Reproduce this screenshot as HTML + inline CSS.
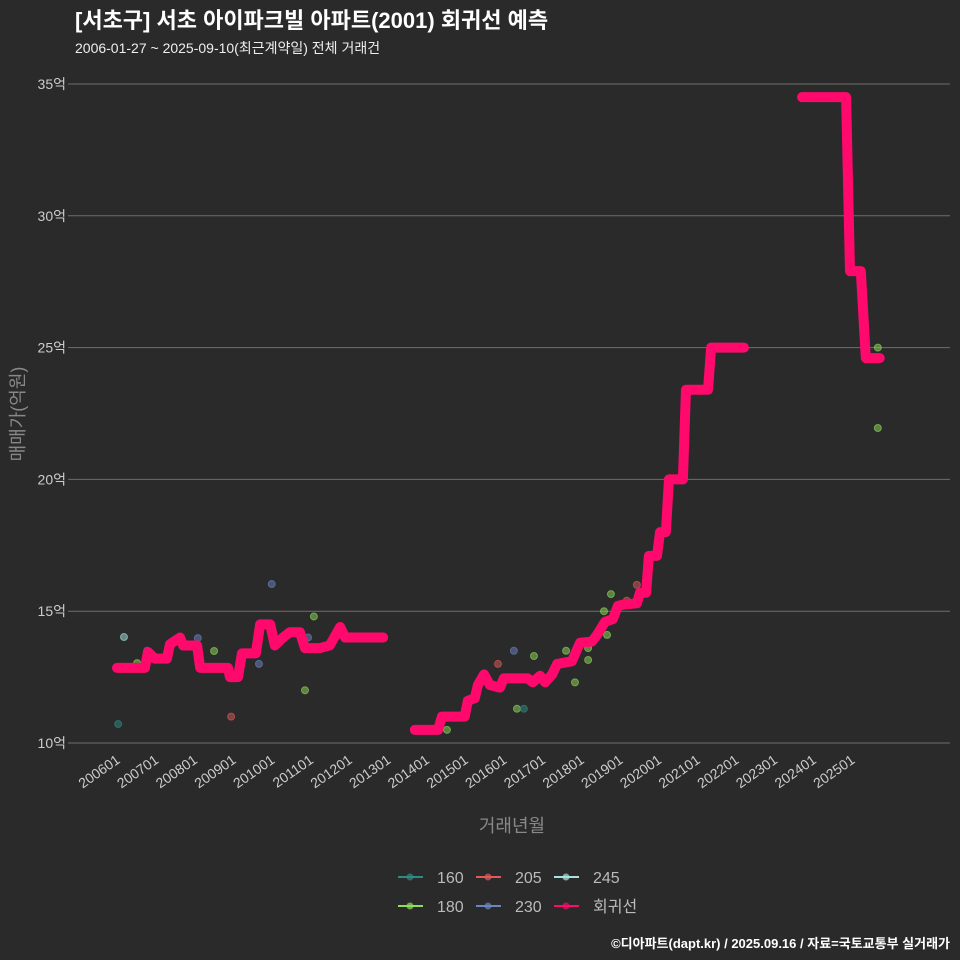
<!DOCTYPE html>
<html><head><meta charset="utf-8"><style>
body{margin:0;background:#2b2a2b;}
svg{display:block;font-family:"Liberation Sans","Noto Sans CJK KR",sans-serif;}
</style></head><body>
<svg id="c" width="960" height="960">
<rect width="960" height="960" fill="#2b2a2b"/>
<text x="75" y="28" fill="#fff" font-size="22" font-weight="bold">[서초구] 서초 아이파크빌 아파트(2001) 회귀선 예측</text>
<text x="75" y="53" fill="#eee" font-size="14">2006-01-27 ~ 2025-09-10(최근계약일) 전체 거래건</text>
<g id="grid"></g><g id="xt"></g><g id="pts"></g><g id="ln"></g>
<text x="24" y="414" fill="#888" font-size="18" text-anchor="middle" transform="rotate(-90 24 414)">매매가(억원)</text>
<text x="512" y="832" fill="#888" font-size="18" text-anchor="middle">거래년월</text>
<g id="leg"></g>
<text x="950" y="948" fill="#fff" font-size="13" font-weight="bold" text-anchor="end">©디아파트(dapt.kr) / 2025.09.16 / 자료=국토교통부 실거래가</text>
</svg>
<script>
const yTicks=[10,15,20,25,30,35];
const xTickYears=[2006,2007,2008,2009,2010,2011,2012,2013,2014,2015,2016,2017,2018,2019,2020,2021,2022,2023,2024,2025];
const seg1=[[2006.0,12.85],[2006.72,12.85],[2006.8,13.45],[2006.98,13.2],[2007.29,13.2],[2007.37,13.75],[2007.63,14.0],[2007.71,13.7],[2008.07,13.7],[2008.15,12.85],[2008.87,12.85],[2008.92,12.5],[2009.13,12.5],[2009.23,13.4],[2009.59,13.4],[2009.7,14.5],[2009.96,14.5],[2010.08,13.7],[2010.29,14.0],[2010.47,14.2],[2010.73,14.2],[2010.86,13.6],[2011.25,13.6],[2011.5,13.7],[2011.77,14.4],[2011.9,14.0],[2012.88,14.0]];
const seg2=[[2013.7,10.5],[2014.3,10.5],[2014.4,11.0],[2014.99,11.0],[2015.07,11.6],[2015.25,11.7],[2015.33,12.2],[2015.49,12.6],[2015.64,12.2],[2015.9,12.1],[2016.0,12.45],[2016.62,12.45],[2016.75,12.3],[2016.94,12.55],[2017.07,12.3],[2017.25,12.6],[2017.38,13.0],[2017.76,13.1],[2017.97,13.8],[2018.28,13.85],[2018.41,14.1],[2018.62,14.6],[2018.82,14.7],[2018.95,15.2],[2019.08,15.25],[2019.44,15.3],[2019.52,15.7],[2019.68,15.7],[2019.75,17.1],[2019.96,17.1],[2020.04,18.0],[2020.19,18.0],[2020.27,20.0],[2020.63,20.0],[2020.71,23.4],[2021.28,23.4],[2021.36,25.0],[2022.21,25.0]];
const seg3=[[2023.71,34.5],[2024.85,34.5],[2024.95,27.9],[2025.23,27.9],[2025.36,24.6],[2025.72,24.6]];
const ptYears=[2006.18,2006.03,2006.52,2006.78,2008.09,2008.51,2008.95,2009.67,2010.0,2010.86,2010.94,2011.09,2014.53,2015.85,2016.26,2016.34,2016.52,2016.78,2017.61,2017.84,2018.18,2018.18,2018.59,2018.67,2018.77,2019.18,2019.44,2025.67,2025.67];
const ptValues=[14.02,10.72,13.03,13.5,13.98,13.49,11.0,13.0,16.03,12.0,14.0,14.8,10.5,13.0,13.5,11.3,11.3,13.3,13.5,12.3,13.15,13.6,15.0,14.1,15.65,15.4,16.0,25.0,21.95];
const ptSizes=['245','160','180','230','230','180','205','230','230','180','230','180','180','205','230','180','160','180','180','180','180','180','180','180','180','205','205','180','180'];
const legendLabels=['160','205','245','180','230','회귀선'];
const colors={'160':'#2f8a84','205':'#e05a5a','245':'#a6e3e0','180':'#8fdc5a','230':'#6a86c0','회귀선':'#ff0a6c'};
const NS='http://www.w3.org/2000/svg';
const X=y=>117+(y-2006)*38.68, Y=v=>743-(v-10)*26.36;
function mk(t,a,p){const e=document.createElementNS(NS,t);for(const k in a)e.setAttribute(k,a[k]);p.appendChild(e);return e;}
const g=document.getElementById('grid');
yTicks.forEach(v=>{const l=mk('line',{x1:68,x2:950,y1:Y(v),y2:Y(v),stroke:'#6e6e6e','stroke-width':1},g);


const t=mk('text',{x:66,y:Y(v)+5,fill:'#ccc','font-size':14,'text-anchor':'end'},g);t.textContent=v+'억';

});
const xt=document.getElementById('xt');
xTickYears.forEach(yr=>{const x=X(yr);const t=mk('text',{x:x+4,y:762,fill:'#ccc','font-size':14,'text-anchor':'end',transform:`rotate(-35 ${x+4} 762)`},xt);t.textContent=yr+'01';

});
const pg=document.getElementById('pts');
ptYears.forEach((yr,i)=>{const c=mk('circle',{cx:X(yr),cy:Y(ptValues[i]),r:3.5,fill:colors[ptSizes[i]],'fill-opacity':0.5,stroke:colors[ptSizes[i]],'stroke-opacity':0.6},pg);

});
const lg=document.getElementById('ln');
[seg1,seg2,seg3].forEach((s,i)=>{const p=mk('polyline',{points:s.map(d=>X(d[0])+','+Y(d[1])).join(' '),fill:'none',stroke:colors['회귀선'],'stroke-width':10,'stroke-linejoin':'round','stroke-linecap':'round'},lg);

});
const leg=document.getElementById('leg');
legendLabels.forEach((lab,i)=>{const col=i%3,row=Math.floor(i/3);const lx=398+col*78,ly=877+row*29;
const e=mk('g',{},leg);


mk('line',{x1:lx,x2:lx+25,y1:ly,y2:ly,stroke:colors[lab],'stroke-width':2},e);
mk('circle',{cx:lx+12,cy:ly,r:3.5,fill:colors[lab],'fill-opacity':0.7},e);
const t=mk('text',{x:lx+39,y:ly+6,fill:'#bbb','font-size':16},e);t.textContent=lab;});
</script>
</body></html>
